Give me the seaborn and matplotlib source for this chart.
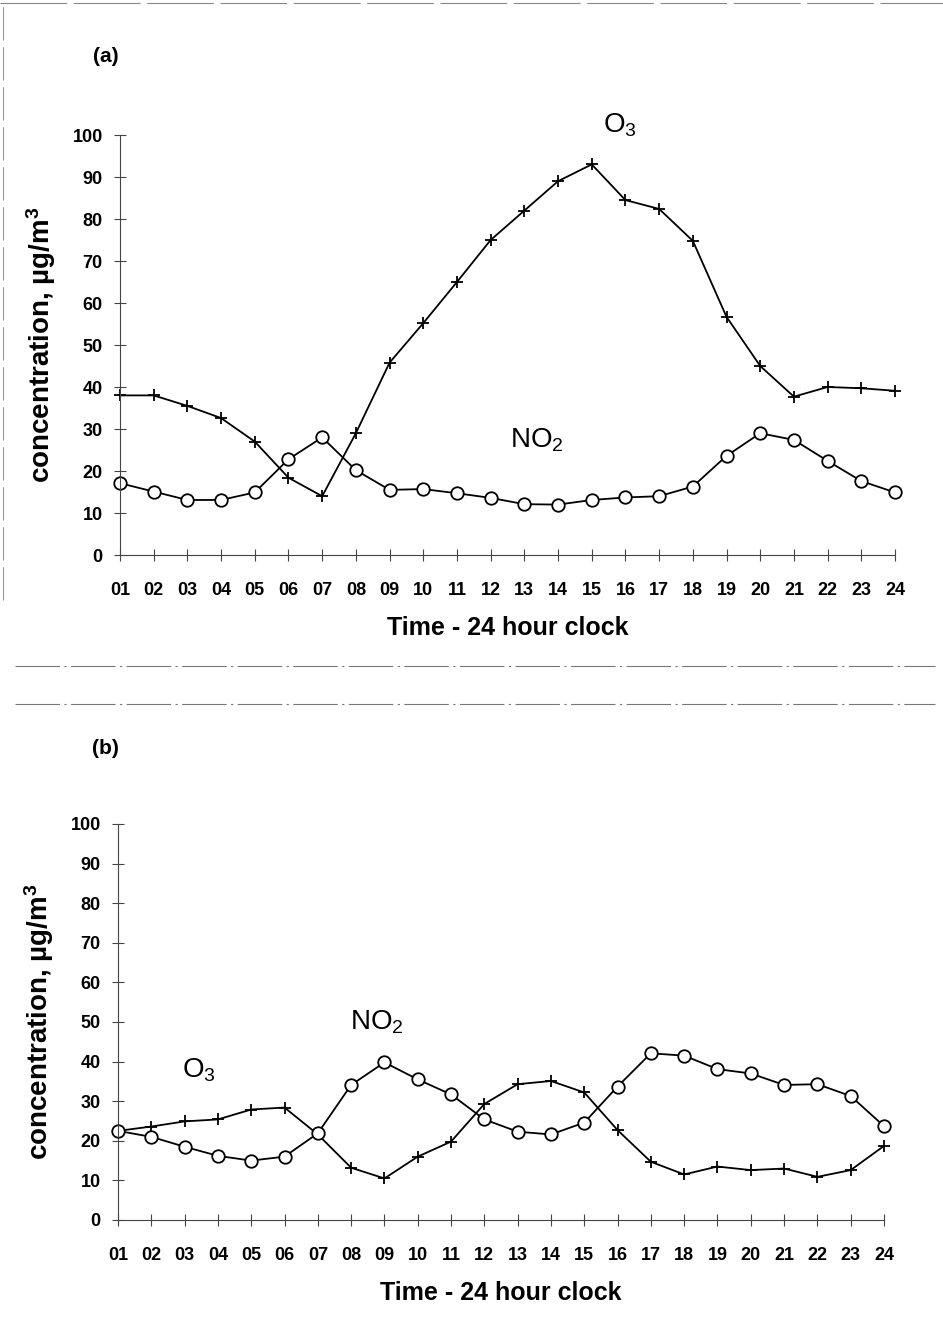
import numpy as np
import pandas as pd
import matplotlib
matplotlib.use("Agg")
import matplotlib.pyplot as plt
from matplotlib.lines import Line2D
import seaborn as sns

# hours of the day, 01..24
hours = list(range(1, 25))
hour_labels = [f"{h:02d}" for h in hours]

# panel (a) concentrations, ug/m3
o3_a = [38, 38, 35.5, 32.6, 27, 18.4, 14, 29, 45.8, 55.2, 65, 75,
        82, 89, 93, 84.5, 82.4, 74.8, 56.7, 45, 37.7, 40, 39.7, 39.1]
no2_a = [17.1, 15.1, 13.1, 13.1, 14.9, 22.8, 28, 20.2, 15.5, 15.7, 14.7, 13.6,
         12.1, 12, 13.1, 13.7, 14, 16.3, 23.6, 29, 27.4, 22.4, 17.6, 14.9]

# panel (b) concentrations, ug/m3
o3_b = [22.5, 23.6, 24.9, 25.4, 27.9, 28.4, 21.6, 13.2, 10.5, 16, 19.8, 29.3,
        34.3, 35.1, 32.2, 22.7, 14.7, 11.5, 13.5, 12.6, 13, 10.9, 12.6, 18.7]
no2_b = [22.5, 21, 18.5, 16.2, 15, 16, 21.9, 34.1, 39.8, 35.5, 31.7, 25.4,
         22.3, 21.6, 24.6, 33.7, 42.1, 41.5, 38.1, 37, 34.1, 34.3, 31.3, 23.7]

y_ticks = list(range(0, 101, 10))

sns.set_theme(style="ticks")
plt.rcParams['font.family'] = ['Liberation Sans', 'DejaVu Sans']
plt.rcParams['mathtext.fontset'] = 'custom'
plt.rcParams['mathtext.rm'] = 'Liberation Sans'
plt.rcParams['mathtext.it'] = 'Liberation Sans:italic'
plt.rcParams['mathtext.bf'] = 'Liberation Sans:bold'
plt.rcParams['text.color'] = 'black'
plt.rcParams['axes.labelcolor'] = 'black'
plt.rcParams['xtick.labelcolor'] = 'black'
plt.rcParams['ytick.labelcolor'] = 'black'

fig = plt.figure(figsize=(9.43, 13.32), dpi=100)
W, H = 943, 1332


def px_axes(left, right, top, bottom):
    return fig.add_axes([left / W, 1 - bottom / H, (right - left) / W, (bottom - top) / H])


def draw_panel(ax, o3, no2):
    df = pd.DataFrame({"hour": hours, "O3": o3, "NO2": no2})
    sns.lineplot(data=df, x="hour", y="O3", ax=ax, color="black", lw=1.3,
                 marker="+", markersize=9, markeredgewidth=1.3,
                 markeredgecolor="black", clip_on=False)
    sns.lineplot(data=df, x="hour", y="NO2", ax=ax, color="black", lw=1.3,
                 marker="o", markersize=9, markerfacecolor="white",
                 markeredgecolor="black", markeredgewidth=1.3, clip_on=False)
    ax.set_xlim(1, 24)
    ax.set_ylim(0, 100)
    ax.set_xticks(hours)
    ax.set_xticklabels(hour_labels, fontsize=13, fontweight="bold")
    ax.set_yticks(y_ticks)
    ax.set_yticklabels([str(v) for v in y_ticks], fontsize=13, fontweight="bold")
    ax.tick_params(axis="x", direction="inout", length=9, width=0.8, color="#444", pad=15)
    ax.tick_params(axis="y", direction="inout", length=9, width=0.8, color="#444", pad=8)
    for s in ["left", "bottom"]:
        ax.spines[s].set_color("#444")
        ax.spines[s].set_linewidth(0.8)
    sns.despine(ax=ax)
    ax.set_xlabel("Time - 24 hour clock", fontsize=18, fontweight="bold", labelpad=12)
    ax.set_ylabel(r"concentration, µg/m$^\mathbf{3}$", fontsize=20, fontweight="bold",
                  labelpad=10)
    ax.patch.set_alpha(0)


ax_a = px_axes(120, 895, 135, 555)
draw_panel(ax_a, o3_a, no2_a)
ax_a.text(15.33, 100.5, r"O$_3$", fontsize=20, ha="left", va="baseline")
ax_a.text(12.57, 25.5, r"NO$_2$", fontsize=20, ha="left", va="baseline")

ax_b = px_axes(118, 884, 824, 1220)
draw_panel(ax_b, o3_b, no2_b)
ax_b.text(7.97, 48, r"NO$_2$", fontsize=20, ha="left", va="baseline")
ax_b.text(2.92, 35.9, r"O$_3$", fontsize=20, ha="left", va="baseline")

fig.text(93 / W, 1 - 57 / H, "(a)", fontsize=15, fontweight="bold", va="center")
fig.text(92 / W, 1 - 748 / H, "(b)", fontsize=15, fontweight="bold", va="center")

# scanned page separators
for y in (666, 704):
    fig.add_artist(Line2D([15 / W, 935 / W], [1 - y / H, 1 - y / H], color="#777",
                          lw=0.8, ls=(0, (40, 4, 2, 4))))
fig.add_artist(Line2D([0, 1], [1 - 3 / H, 1 - 3 / H], color="#888", lw=0.8,
                      ls=(0, (60, 6))))
fig.add_artist(Line2D([3 / W, 3 / W], [1 - 600 / H, 1], color="#999", lw=0.8,
                      ls=(0, (30, 6))))

fig.savefig("out.png", dpi=100)
